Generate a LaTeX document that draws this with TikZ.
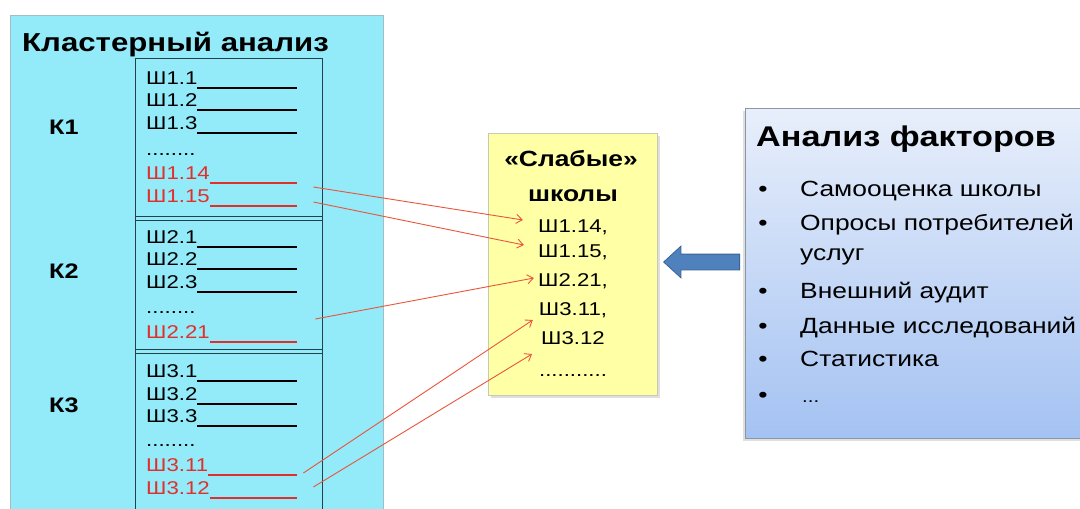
\documentclass[tikz,border=0pt]{standalone}
\usepackage{fontspec}
\setmainfont{Liberation Sans}[FakeStretch=1.2]
\usetikzlibrary{arrows.meta}
\usetikzlibrary{positioning}
\usetikzlibrary{calc}
\usetikzlibrary{shapes.arrows}
\usetikzlibrary{shadows}
\definecolor{clusterbg}{HTML}{93EAF9}
\definecolor{clusterline}{HTML}{A3BCC8}
\definecolor{listline}{HTML}{23414B}
\definecolor{weakbg}{HTML}{FFFFA6}
\definecolor{weakline}{HTML}{C8C8B4}
\definecolor{hotred}{HTML}{E0302C}
\definecolor{linkred}{HTML}{EA553C}
\definecolor{dirblue}{HTML}{4F81BD}
\definecolor{dirline}{HTML}{3A6396}
\definecolor{factop}{HTML}{E8EFFB}
\definecolor{facbot}{HTML}{A4C2F2}
\definecolor{facline}{HTML}{8C96A0}
\newcommand{\headfont}{\fontsize{26}{28}\selectfont\bfseries}
\newcommand{\itemfont}{\fontsize{18.5}{20}\selectfont}
\newcommand{\blankline}{\leaders\hrule height -2.5pt depth 4.5pt\hfill\kern0pt}
\newcommand{\skipdots}{........}

\begin{document}
\begin{tikzpicture}[
  x=1pt, y=-1pt,
  cluster/.style={
    draw=clusterline, fill=clusterbg, line width=0.8pt,
    minimum width=373pt, minimum height=515pt,
    inner sep=0pt},
  listbox/.style={
    draw=listline, line width=0.7pt,
    minimum width=187pt, minimum height=470pt,
    inner sep=0pt},
  rule/.style={draw=listline, line width=0.7pt},
  item/.style={
    anchor=base west, inner sep=0pt,
    text width=151pt, align=left, font=\itemfont},
  cold/.style={text=black},
  hot/.style={text=hotred},
  klabel/.style={anchor=base west, inner sep=0pt,
    font=\fontsize{21}{24}\selectfont\bfseries},
  link/.style={
    -{Straight Barb[length=6pt,width=9pt]},
    draw=linkred, line width=0.9pt},
  weak/.style={
    draw=weakline, fill=weakbg, line width=0.6pt,
    minimum width=169pt, minimum height=262pt,
    drop shadow={opacity=0.25, shadow xshift=3pt, shadow yshift=-3pt}},
  weakhead/.style={anchor=base, inner sep=0pt,
    font=\fontsize{22}{24}\selectfont\bfseries},
  weakitem/.style={anchor=base, inner sep=0pt, font=\itemfont},
  dir/.style={
    single arrow, draw=dirline, fill=dirblue, line width=0.8pt,
    minimum height=76pt, inner xsep=0pt, inner ysep=7.5pt,
    single arrow head extend=8pt, single arrow tip angle=85,
    rotate=180},
  factors/.style={
    draw=facline, line width=0.8pt,
    top color=factop, bottom color=facbot,
    minimum width=360pt, minimum height=330pt,
    drop shadow={opacity=0.25, shadow xshift=-2pt, shadow yshift=-3pt}},
  fact/.style={anchor=base west, inner sep=0pt,
    font=\fontsize{22}{24}\selectfont},
  bul/.style={anchor=base, inner sep=0pt,
    font=\fontsize{22}{24}\selectfont},
]

  \useasboundingbox (0,0) rectangle (1080,509);
  \clip (0,0) rectangle (1080,509);
  \fill[white] (0,0) rectangle (1080,509);

    % Cluster analysis panel
  \node[cluster] (clus) at (196.5,272.5) {};
  \node[anchor=base west, inner sep=0pt, font=\headfont] (clushead)
      at (22,51) {Кластерный анализ};
  \node[listbox] (lst) at (228.5,293) {};
  \foreach \y in {216,220,349,353} {
    \draw[rule] (lst.west |- 0,\y) -- (lst.east |- 0,\y);
  }

  \node[klabel] (k1) at (49,134) {К1};
  \node[klabel] (k2) at (49,278) {К2};
  \node[klabel] (k3) at (49,412) {К3};

    % Schools of each cluster
  \foreach \nm/\lbl/\y/\sty in {
      s11/Ш1.1\blankline/84/cold, s12/Ш1.2\blankline/106/cold,
      s13/Ш1.3\blankline/129/cold, d1/\skipdots/155/cold,
      s114/Ш1.14\blankline/179/hot, s115/Ш1.15\blankline/202/hot,
      s21/Ш2.1\blankline/243/cold, s22/Ш2.2\blankline/265/cold,
      s23/Ш2.3\blankline/288/cold, d2/\skipdots/313/cold,
      s221/Ш2.21\blankline/338/hot,
      s31/Ш3.1\blankline/377/cold, s32/Ш3.2\blankline/400/cold,
      s33/Ш3.3\blankline/422/cold, d3/\skipdots/446/cold,
      s311/Ш3.11\blankline/471/hot, s312/Ш3.12\blankline/494/hot} {
    \node[item,\sty] (\nm) at (146,\y) {\lbl};
  }

    % Weak schools
  \node[weak] (weak) at (572.5,264) {};
  \node[weakhead] (wh1) at (571,166) {«Слабые»};
  \node[weakhead] (wh2) at (573,201) {школы};
  \foreach \nm/\lbl/\y in {w114/{Ш1.14,}/232, w115/{Ш1.15,}/257,
      w221/{Ш2.21,}/286, w311/{Ш3.11,}/315, w312/{Ш3.12}/344} {
    \node[weakitem] (\nm) at (573,\y) {\lbl};
  }
  \node[weakitem] (wdots) at (573,376) {\skipdots...};

  \draw[link] ([xshift=16pt,yshift=-8pt]s114.base east)
      -- ([xshift=-15pt,yshift=12pt]w114.base west);
  \draw[link] ([xshift=16pt]s115.base east)
      -- ([xshift=-14pt,yshift=12pt]w115.base west);
  \draw[link] ([xshift=18pt,yshift=19pt]s221.base east)
      -- ([xshift=-4pt,yshift=8pt]w221.base west);
  \draw[link] ([xshift=6pt,yshift=-2pt]s311.base east)
      -- ([xshift=-6pt,yshift=-5pt]w311.base west);
  \draw[link] ([xshift=16pt,yshift=7pt]s312.base east)
      -- ([xshift=-9pt,yshift=-10pt]w312.base west);

    % Factor analysis panel
  \node[factors] (fac) at (925,273) {};
  \node[anchor=base west, inner sep=0pt,
      font=\fontsize{28.5}{30}\selectfont\bfseries] (fachead)
      at (756,146) {Анализ факторов};
  \foreach \nm/\lbl/\y in {f1/Самооценка школы/196,
      f2/Опросы потребителей/230, f3/Внешний аудит/298,
      f4/Данные исследований/333, f5/Статистика/366} {
    \node[bul] at (763,\y) {•};
    \node[fact] (\nm) at (800,\y) {\lbl};
  }
  \node[fact] (f2b) at (800,260) {услуг};
  \node[bul] at (763,402) {•};
  \node[fact] (f6) at (802,402) {{\fontsize{17}{18}\selectfont...}};

  \node[dir] (toweak) at ($(weak.east)!0.5!(weak.east -| fac.west)+(5,-2)$) {};

\end{tikzpicture}
\end{document}
